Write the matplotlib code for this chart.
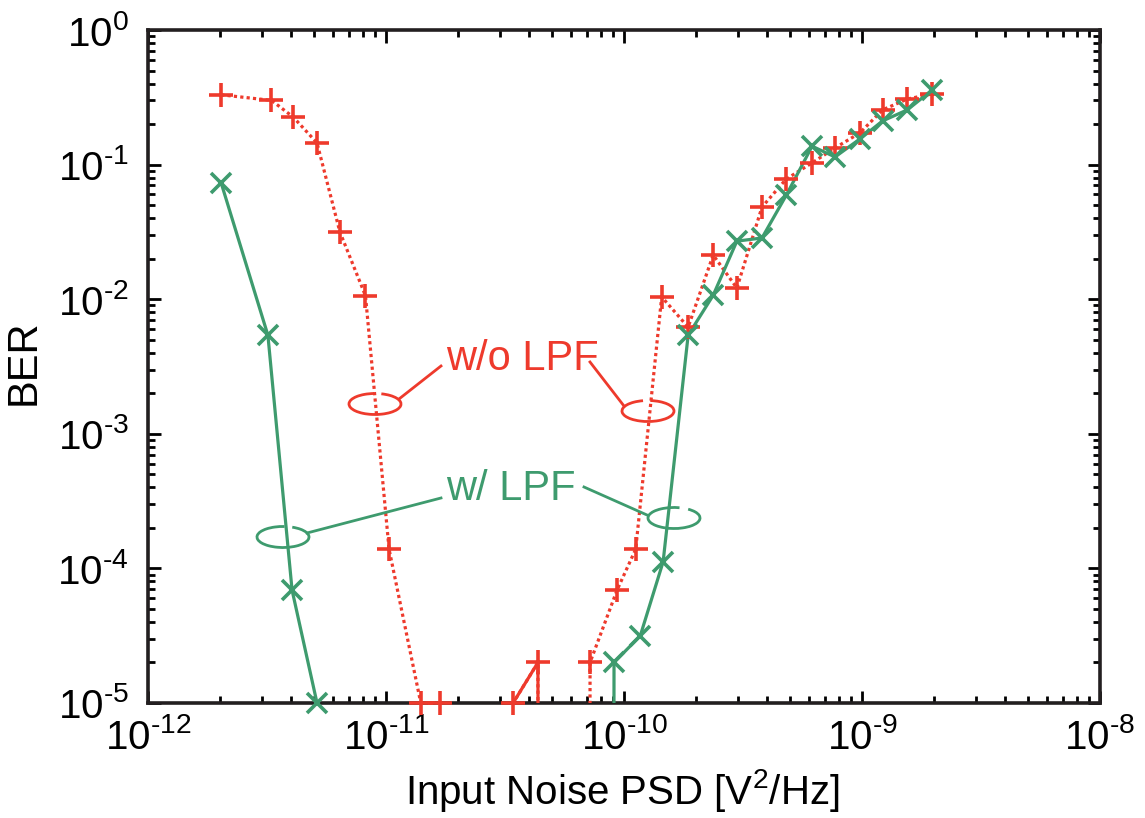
import numpy as np
import matplotlib
matplotlib.use('Agg')
import matplotlib.pyplot as plt
from matplotlib.patches import Arc
from matplotlib.ticker import FuncFormatter, FixedLocator, LogLocator, NullFormatter

plt.rcParams['font.family'] = ['Liberation Sans', 'DejaVu Sans']
plt.rcParams['mathtext.fontset'] = 'custom'
plt.rcParams['mathtext.rm'] = 'Liberation Sans'
plt.rcParams['mathtext.it'] = 'Liberation Sans:italic'
plt.rcParams['mathtext.bf'] = 'Liberation Sans:bold'
plt.rcParams['axes.unicode_minus'] = False

# ---- data (BER = 0 means no errors observed) ----
red_x = [2.03e-12, 3.3e-12, 4.07e-12, 5.13e-12, 6.4e-12, 8.2e-12, 1.03e-11,
         1.40e-11, 1.69e-11, 2.5e-11, 3.42e-11, 4.35e-11, 5.5e-11, 7.2e-11,
         9.35e-11, 1.12e-10, 1.44e-10, 1.86e-10, 2.37e-10, 2.98e-10, 3.80e-10,
         4.80e-10, 6.17e-10, 7.7e-10, 9.8e-10, 1.22e-9, 1.55e-9, 1.97e-9]
red_y = [0.33, 0.30, 0.226, 0.145, 0.0316, 0.0106, 1.39e-4,
         1e-5, 1e-5, 0.0, 1e-5, 2e-5, 0.0, 2e-5,
         6.9e-5, 1.39e-4, 0.0104, 6.2e-3, 0.0213, 0.0121, 0.0484,
         0.078, 0.103, 0.133, 0.172, 0.255, 0.307, 0.335]
red_solid = slice(10, 13)

green_x = [2.03e-12, 3.19e-12, 4.03e-12, 5.13e-12, 2.0e-11, 9.08e-11, 1.17e-10,
           1.46e-10, 1.86e-10, 2.37e-10, 2.98e-10, 3.80e-10, 4.80e-10, 6.17e-10,
           7.7e-10, 9.8e-10, 1.22e-9, 1.55e-9, 1.97e-9]
green_y = [0.073, 5.4e-3, 6.9e-5, 1e-5, 0.0, 2e-5, 3.15e-5,
           1.12e-4, 5.4e-3, 0.0107, 0.027, 0.0285, 0.059, 0.137,
           0.114, 0.155, 0.211, 0.255, 0.358]

x_decades = [-12, -11, -10, -9, -8]
y_decades = [-5, -4, -3, -2, -1, 0]

RED = '#EE3A2C'
GREEN = '#3E9B6E'

W, H = 1145, 818
fig = plt.figure(figsize=(W / 100, H / 100), dpi=100)
ax = fig.add_axes([148 / W, 1 - 703 / H, (1100 - 148) / W, (703 - 30) / H])
ax.set_xscale('log')
ax.set_yscale('log', nonpositive='clip')

rx, ry = np.array(red_x), np.array(red_y)
gx, gy = np.array(green_x), np.array(green_y)

ax.plot(rx, ry, color=RED, lw=2.3, ls=(0, (1, 1)), zorder=3)
ax.plot(rx[red_solid], ry[red_solid], color=RED, lw=2.3, ls='-', zorder=3)
ax.plot(gx, gy, color=GREEN, lw=2.3, ls='-', zorder=4)

ax.plot(rx, np.where(ry > 0, ry, np.nan), ls='none', marker='+', ms=17,
        mew=2.6, color=RED, clip_on=False, zorder=5)
ax.plot(gx, np.where(gy > 0, gy, np.nan), ls='none', marker='x', ms=15,
        mew=2.6, color=GREEN, clip_on=False, zorder=6)

ax.set_xlim(10.0 ** x_decades[0], 10.0 ** x_decades[-1])
ax.set_ylim(10.0 ** y_decades[0], 10.0 ** y_decades[-1])


def fmt(v, p):
    e = int(round(np.log10(v)))
    if e < 0:
        return '$\\mathdefault{10^{\u2010%d}}$' % (-e)
    return '$\\mathdefault{10^{%d}}$' % e


ax.xaxis.set_major_locator(FixedLocator([10.0 ** d for d in x_decades]))
ax.yaxis.set_major_locator(FixedLocator([10.0 ** d for d in y_decades]))
ax.xaxis.set_minor_locator(LogLocator(base=10, subs=np.arange(2, 10), numticks=20))
ax.yaxis.set_minor_locator(LogLocator(base=10, subs=np.arange(2, 10), numticks=20))
ax.xaxis.set_major_formatter(FuncFormatter(fmt))
ax.yaxis.set_major_formatter(FuncFormatter(fmt))
ax.xaxis.set_minor_formatter(NullFormatter())
ax.yaxis.set_minor_formatter(NullFormatter())

ax.tick_params(which='both', direction='in', top=True, right=True,
               labelsize=29, width=2)
ax.tick_params(which='major', length=9)
ax.tick_params(which='minor', length=5)
ax.tick_params(axis='x', pad=11)
ax.tick_params(axis='y', pad=14)
for s in ax.spines.values():
    s.set_linewidth(2.6)
    s.set_color('#231F20')

ax.set_xlabel('Input Noise PSD [V$^2$/Hz]', fontsize=29)
ax.xaxis.set_label_coords(0.498, -0.095)
ax.set_ylabel('BER', fontsize=30)
ax.yaxis.set_label_coords(-0.110, 0.507)


def P(x, y):
    return (x / W, 1 - y / H)


# annotations
fig.text(*P(522, 370), 'w/o LPF', color=RED, fontsize=30, ha='center', va='baseline')
fig.text(*P(511, 500), 'w/ LPF', color=GREEN, fontsize=30, ha='center', va='baseline')

for (cx, cy, col, gap) in [(375, 404, RED, 80), (648, 411, RED, 95),
                           (283, 537, GREEN, 70), (674, 518, GREEN, 55)]:
    a = Arc(P(cx, cy), 52 / W, 21 / H, theta1=gap + 14, theta2=gap + 360 - 14,
            transform=fig.transFigure, color=col, lw=2.0)
    fig.add_artist(a)

for (x0, y0, x1, y1, col) in [(399, 399, 441, 366, RED), (590, 362, 624, 406, RED),
                              (307, 533, 441, 498, GREEN), (584, 487, 647, 515, GREEN)]:
    fig.add_artist(plt.Line2D([x0 / W, x1 / W], [1 - y0 / H, 1 - y1 / H],
                              transform=fig.transFigure, color=col, lw=2.0))

fig.savefig('out.png', dpi=100)
